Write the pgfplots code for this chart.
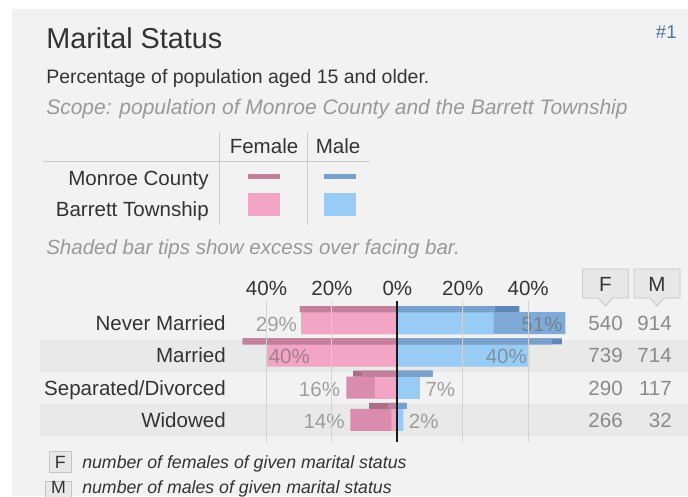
\documentclass[border=0pt]{standalone}
\usepackage{fontspec}
\setmainfont{Liberation Sans}
\usepackage{pgfplots}
\usepackage{pgfplotstable}
\pgfplotsset{compat=1.18}
\definecolor{bgpanel}{HTML}{F2F2F2}
\definecolor{band}{HTML}{E9E9E9}
\definecolor{txt}{HTML}{333333}
\definecolor{subtxt}{HTML}{999999}
\definecolor{numtxt}{HTML}{8A8A8A}
\definecolor{hashblue}{HTML}{4A78A0}
\definecolor{boxfill}{HTML}{E8E8E8}
\definecolor{boxdraw}{HTML}{C4C4C4}
\definecolor{fB}{HTML}{F2A5C4}
\definecolor{fBd}{HTML}{D98CAE}
\definecolor{fM}{HTML}{C4809B}
\definecolor{fMd}{HTML}{AD6D87}
\definecolor{mB}{HTML}{99CCF5}
\definecolor{mBd}{HTML}{7FA9D6}
\definecolor{mM}{HTML}{78A0CD}
\definecolor{mMd}{HTML}{5F88BA}
\newcommand\mainsize{\fontsize{15.4}{18}\selectfont}
\newcommand\notesize{\fontsize{13.3}{16}\selectfont}
\tikzset{pl/.style={font=\mainsize, text=black!60, text opacity=0.58, inner sep=0pt}}
% y = row (0 = Never Married ... -3 = Widowed)
% B* = Barrett Township (thick bars), M* = Monroe County (thin bars)
% *min = length of the part not exceeding the facing bar
\pgfplotstableread{
y   BF     BFmin  BM    BMmin  MF     MFmin  MM    MMmin
0   -29.4  -29.4  51.4  29.4   -29.8  -29.8  37.3  29.8
-1  -40.0  -40.0  40.3  40.0   -47.3  -47.3  50.3  47.3
-2  -15.6  -6.9   6.9   6.9    -13.5  -10.8  10.8  10.8
-3  -14.4  -1.8   1.8   1.8    -8.6   -2.9   2.9   2.9
}\datatable
\begin{document}
\begin{tikzpicture}[x=0.75pt,y=-0.75pt]
\fill[white] (0,0) rectangle (688,496);
\fill[bgpanel] (12,9) rectangle (688,496);
\fill[band] (40,339.5) rectangle (688,371.8);
\fill[band] (40,404.1) rectangle (688,436.4);
% titles
\node[anchor=base west, inner sep=0pt, text=txt, font=\fontsize{21.6}{26}\selectfont] at (46,48) {Marital Status};
\node[anchor=base east, inner sep=0pt, text=hashblue, font=\fontsize{14}{16}\selectfont] at (677,38) {\#1};
\node[anchor=base west, inner sep=0pt, text=txt, font=\fontsize{14.6}{17}\selectfont] at (46,83) {Percentage of population aged 15 and older.};
\node[anchor=base west, inner sep=0pt, text=subtxt, font=\fontsize{15.75}{18}\selectfont\itshape] at (46,114) {Scope: population of Monroe County and the Barrett Township};
% legend table
\draw[black!20, line width=0.75pt] (219.3,132) -- (219.3,225);
\draw[black!20, line width=0.75pt] (307.7,132) -- (307.7,225);
\draw[black!20, line width=0.75pt] (43,161.7) -- (370,161.7);
\node[anchor=base, inner sep=0pt, text=txt, font=\mainsize] at (264,153) {Female};
\node[anchor=base, inner sep=0pt, text=txt, font=\mainsize] at (338,153) {Male};
\node[anchor=base east, inner sep=0pt, text=txt, font=\mainsize] at (209,185) {Monroe County};
\node[anchor=base east, inner sep=0pt, text=txt, font=\mainsize] at (209,216) {Barrett Township};
\fill[fM] (248,174.3) rectangle (280,179);
\fill[mM] (324,174.3) rectangle (356,179);
\fill[fB] (248,193.3) rectangle (280,215.7);
\fill[mB] (324,193.3) rectangle (356,215.7);
\node[anchor=base west, inner sep=0pt, text=subtxt, font=\mainsize\itshape] at (46,254) {Shaded bar tips show excess over facing bar.};
% F / M column headers
\draw[fill=boxfill, draw=boxdraw, line width=0.6pt] (582.7,269) -- (628.3,269) -- (628.3,298) -- (612.5,298) -- (605.5,306) -- (598.5,298) -- (582.7,298) -- cycle;
\draw[fill=boxfill, draw=boxdraw, line width=0.6pt] (634,269) -- (680,269) -- (680,298) -- (664,298) -- (657,306) -- (650,298) -- (634,298) -- cycle;
\node[anchor=base, inner sep=0pt, text=txt, font=\mainsize] at (605.5,291) {F};
\node[anchor=base, inner sep=0pt, text=txt, font=\mainsize] at (657,291) {M};
% counts
\foreach \f/\m/\yy in {540/914/330.5, 739/714/362.8, 290/117/395.1, 266/32/427.4}{
  \node[anchor=base east, inner sep=0pt, text=numtxt, font=\mainsize] at (623,\yy) {\f};
  \node[anchor=base east, inner sep=0pt, text=numtxt, font=\mainsize] at (672,\yy) {\m};
}
% notes
\draw[fill=boxfill, draw=boxdraw, line width=0.6pt] (49.5,451) rectangle (71,472);
\node[anchor=base, inner sep=0pt, text=txt, font=\notesize] at (60.2,468) {F};
\draw[fill=boxfill, draw=boxdraw, line width=0.6pt] (45.5,481) rectangle (71.5,500);
\node[anchor=base, inner sep=0pt, text=txt, font=\notesize] at (58.5,493) {M};
\node[anchor=base west, inner sep=0pt, text=txt, font=\notesize\itshape] at (82,468) {number of females of given marital status};
\node[anchor=base west, inner sep=0pt, text=txt, font=\notesize\itshape] at (82,493) {number of males of given marital status};
% chart
\coordinate (ao) at (227.3,301);
\begin{axis}[
  at={(ao)}, anchor=north west, scale only axis,
  width=264.9pt, height=105.75pt,
  xmin=-52, xmax=56, ymin=-3.684, ymax=0.681,
  clip=false, axis on top,
  axis line style={draw=none},
  major tick length=0pt, tick style={draw=none},
  xtick={-40,-20,20,40}, xticklabels={40\%,20\%,20\%,40\%},
  extra x ticks={0}, extra x tick labels={0\%},
  extra x tick style={grid=none},
  xmajorgrids, grid style={black!17, line width=0.75pt},
  xticklabel pos=upper,
  xticklabel style={anchor=base, inner sep=0pt, yshift=4.5pt, font=\mainsize, text=txt},
  ytick={-3,-2,-1,0},
  yticklabels={Widowed,Separated/Divorced,Married,Never Married},
  yticklabel style={anchor=base east, inner sep=0pt, xshift=-1pt, yshift=-5.6pt, font=\mainsize, text=txt},
]
% Barrett Township (thick)
\addplot[xbar, bar width=0.681, bar shift=0, draw=none, fill=fBd] table[x=BF, y=y] {\datatable};
\addplot[xbar, bar width=0.681, bar shift=0, draw=none, fill=fB] table[x=BFmin, y=y] {\datatable};
\addplot[xbar, bar width=0.681, bar shift=0, draw=none, fill=mBd] table[x=BM, y=y] {\datatable};
\addplot[xbar, bar width=0.681, bar shift=0, draw=none, fill=mB] table[x=BMmin, y=y] {\datatable};
% Monroe County (thin)
\addplot[xbar, bar width=0.186, bar shift=0.433, draw=none, fill=fMd] table[x=MF, y=y] {\datatable};
\addplot[xbar, bar width=0.186, bar shift=0.433, draw=none, fill=fM] table[x=MFmin, y=y] {\datatable};
\addplot[xbar, bar width=0.186, bar shift=0.433, draw=none, fill=mMd] table[x=MM, y=y] {\datatable};
\addplot[xbar, bar width=0.186, bar shift=0.433, draw=none, fill=mM] table[x=MMmin, y=y] {\datatable};
\draw[black!90, line width=1.3pt] (axis cs:0,-3.684) -- (axis cs:0,0.681);
% value labels
\node[pl, anchor=east, xshift=-3pt] at (axis cs:-29.4,-0.05) {29\%};
\node[pl, anchor=west, xshift=1.5pt] at (axis cs:-40,-1.05) {40\%};
\node[pl, anchor=east, xshift=-4.5pt] at (axis cs:-15.6,-2.05) {16\%};
\node[pl, anchor=east, xshift=-4pt] at (axis cs:-14.4,-3.05) {14\%};
\node[pl, anchor=east, xshift=-2pt] at (axis cs:51.4,-0.05) {51\%};
\node[pl, anchor=east, xshift=-1.5pt] at (axis cs:40.3,-1.05) {40\%};
\node[pl, anchor=west, xshift=4pt] at (axis cs:6.9,-2.05) {7\%};
\node[pl, anchor=west, xshift=4pt] at (axis cs:1.8,-3.05) {2\%};
\end{axis}
\pgfresetboundingbox
\path[use as bounding box] (0,0) rectangle (688,496);
\end{tikzpicture}
\end{document}
